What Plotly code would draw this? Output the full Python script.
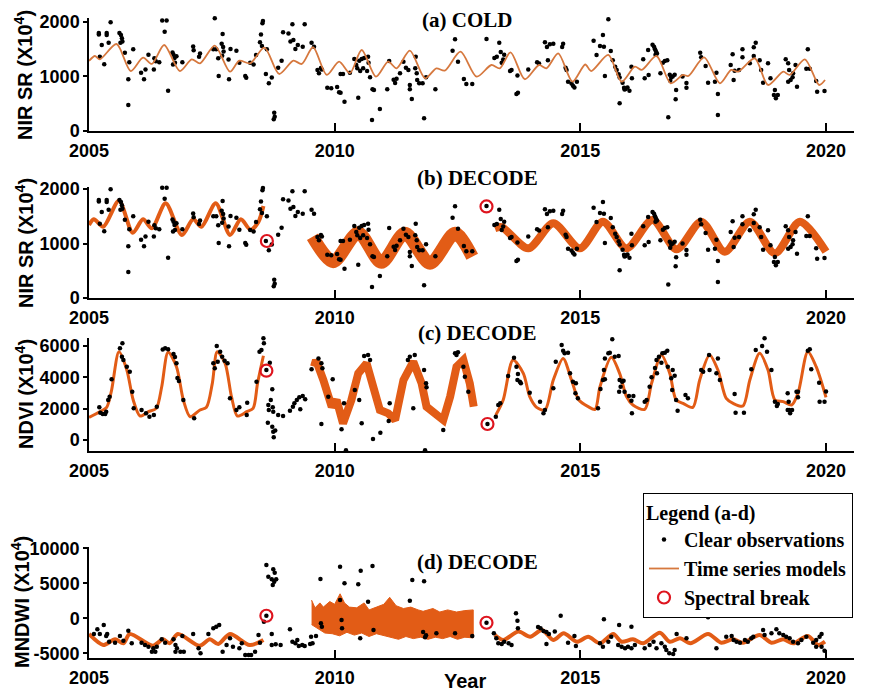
import plotly.graph_objects as go

# ---------------- DATA ----------------
# NIR SR clear observations (shared by panels a and b)
nir_obs_year = [2005.20,2005.20,2005.22,2005.26,2005.31,2005.36,2005.36,2005.40,2005.44,2005.62,2005.65,2005.67,2005.68,2005.64,2005.73,2005.80,2005.80,2005.82,2005.90,
2006.06,2006.12,2006.15,2006.21,2006.32,2006.33,2006.36,2006.43,2006.49,2006.58,2006.54,2006.61,2006.70,2006.72,2006.74,2006.78,2006.75,2006.71,2006.90,
2007.12,2007.13,2007.24,2007.26,2007.56,2007.53,2007.59,2007.63,2007.64,2007.70,2007.72,2007.73,2007.74,2007.71,2007.84,2007.85,2007.88,
2008.00,2008.06,2008.18,2008.20,2008.28,2008.35,2008.40,2008.48,2008.50,2008.52,2008.53,2008.54,2008.60,2008.62,2008.66,2008.72,2008.77,2008.78,2008.76,2008.85,2008.92,2008.95,
2009.06,2009.10,2009.14,2009.16,2009.20,2009.25,2009.35,2009.39,2009.53,2009.58,2009.65,2009.68,2009.72,2009.74,2009.85,2009.93,
2010.05,2010.09,2010.12,2010.12,2010.17,2010.20,2010.31,2010.40,2010.44,2010.50,2010.55,2010.60,2010.48,2010.46,2010.52,2010.58,2010.66,2010.68,2010.69,2010.72,2010.77,2010.80,2010.76,2010.92,
2011.07,2011.11,2011.20,2011.23,2011.26,2011.33,2011.40,2011.45,2011.50,2011.53,2011.53,2011.57,2011.64,2011.65,2011.67,2011.68,2011.72,2011.79,2011.82,2011.86,
2012.05,2012.40,2012.45,2012.51,2012.63,2012.68,2012.80,
2013.09,2013.25,2013.30,2013.35,2013.38,2013.40,2013.43,2013.45,2013.57,2013.60,2013.70,2013.73,2013.72,2013.94,
2014.12,2014.16,2014.28,2014.32,2014.38,2014.45,2014.34,2014.65,2014.63,2014.70,2014.72,2014.75,2014.82,2014.85,2014.88,2014.93,
2015.27,2015.33,2015.40,2015.46,2015.48,2015.50,2015.57,2015.62,2015.66,2015.71,2015.74,2015.78,2015.80,2015.80,2015.86,2015.89,2015.92,2015.96,2016.00,2015.90,
2016.04,2016.05,2016.28,2016.31,2016.38,2016.39,2016.47,2016.50,2016.52,2016.54,2016.56,2016.53,2016.63,2016.68,2016.72,2016.77,2016.79,2016.82,2016.85,2016.88,2016.83,2016.92,2016.95,2016.94,
2017.08,2017.16,2017.16,2017.44,2017.46,2017.55,2017.60,2017.74,2017.77,2017.80,2017.80,
2018.06,2018.10,2018.12,2018.14,2018.23,2018.30,2018.30,2018.45,2018.53,2018.57,2018.53,2018.65,2018.68,2018.72,2018.82,2018.87,2018.94,2018.98,2019.02,2018.96,
2019.18,2019.23,2019.25,2019.23,2019.28,2019.32,2019.33,2019.38,2019.41,2019.63,2019.60,2019.67,2019.80,2019.82,2019.97]
nir_obs_val = [1800,1770,1363,1578,1224,1800,1760,1620,1995,1800,1760,1700,1640,1620,1437,950,477,1260,1500,
1070,950,1130,1400,1130,1334,1280,1260,2025,2025,1822,740,1440,1400,1340,1370,1250,1220,1260,
1550,1480,1360,1420,2068,1500,1500,1334,1010,1600,1780,1540,1460,1380,1310,950,1505,
1473,1253,1010,975,1250,1220,1395,1630,1770,1560,1976,2018,1046,1500,875,980,336,262,215,1160,1290,1810,
1790,1640,1958,1670,1505,1578,1547,1958,1620,1547,1120,1060,1155,1130,795,783,
807,710,703,1046,1046,538,1070,1320,1210,1290,1320,1340,611,1150,1100,1150,1100,1363,1253,985,765,752,202,404,
765,1285,940,880,960,1058,1272,1160,1120,844,765,587,1150,1363,1060,935,875,875,233,985,
765,1473,1683,1272,955,860,860,
1690,1340,1360,1620,1450,1250,1310,1400,1100,1120,680,700,1020,1130,
1260,1240,1630,1540,1590,1600,1300,1600,1540,1160,1120,905,870,830,800,905,
1657,1395,1560,1762,1547,1010,2050,1468,1300,1180,1120,1040,980,508,886,795,770,800,740,760,
1180,967,1315,967,1486,1028,1580,1547,1500,1460,1420,1400,1060,1253,1285,1300,250,1030,980,1000,920,1030,750,582,
1000,880,795,1437,1352,1193,886,905,1070,680,294,
1211,1407,935,1107,1120,1500,1352,1242,1535,1620,1376,1300,1120,886,1242,967,660,600,660,752,
1315,1242,1120,905,935,985,1058,1211,813,1500,1140,1140,915,722,734]

# Panel (a) COLD model
cold_year = [2005.00,2005.12,2005.22,2005.56,2005.85,2006.10,2006.28,2006.53,2006.85,2007.09,2007.26,2007.56,2007.87,2008.06,2008.28,2008.57,2008.87,2009.16,2009.33,2009.56,2009.84,
2010.09,2010.31,2010.55,2010.84,2011.09,2011.26,2011.53,2011.84,2012.07,2012.24,2012.56,2012.89,2013.19,2013.36,2013.58,2013.87,2014.16,2014.31,2014.55,2014.84,
2015.10,2015.22,2015.57,2015.84,2016.11,2016.25,2016.55,2016.84,2017.09,2017.20,2017.52,2017.84,2018.07,2018.21,2018.55,2018.82,2019.13,2019.26,2019.57,2019.86,2019.98]
cold_val = [1285,1376,1315,1596,1100,1345,1230,1578,1100,1315,1242,1565,1088,1290,1242,1529,1046,1290,1230,1536,1028,
1272,1060,1486,996,1272,1150,1473,967,1150,1107,1455,996,1211,1150,1444,950,1211,1150,1425,905,
1220,1100,1395,905,1180,1120,1376,875,1028,1010,1352,875,1120,1088,1334,844,1088,1028,1315,844,935]

# Panel (b) DECODE NIR models (three segments)
nir_s1_year = [2005.00,2005.10,2005.29,2005.61,2005.89,2006.10,2006.28,2006.56,2006.89,2007.12,2007.29,2007.58,2007.87,2008.09,2008.29,2008.45,2008.55]
nir_s1_val = [1340,1444,1308,1785,1198,1444,1279,1738,1156,1444,1308,1738,1156,1444,1248,1400,1688]
nir_s2_year = [2009.55,2009.97,2010.48,2010.95,2011.43,2011.94,2012.45,2012.80]
nir_s2_val = [1125,666,1198,655,1187,636,1187,758]
nir_s3_year = [2013.26,2013.40,2013.94,2014.45,2014.99,2015.46,2015.94,2016.47,2016.96,2017.46,2017.94,2018.45,2018.96,2019.47,2020.00]
nir_s3_val = [1280,1300,912,1370,912,1400,912,1431,893,1400,850,1400,820,1400,850]
nir_break_year = [2008.62,2013.09]
nir_break_val = [1046,1680]

# Panel (c) NDVI
ndvi_obs_year = [2005.21,2005.23,2005.28,2005.33,2005.35,2005.39,2005.42,2005.46,2005.63,2005.68,2005.67,2005.70,2005.77,2005.83,2005.88,2005.91,
2006.07,2006.16,2006.23,2006.32,2006.38,2006.50,2006.55,2006.61,2006.72,2006.75,2006.78,2006.80,2006.83,2006.92,
2007.14,2007.53,2007.56,2007.60,2007.62,2007.67,2007.71,2007.76,2007.82,2007.87,
2008.00,2008.06,2008.21,2008.22,2008.41,2008.47,2008.51,2008.55,2008.56,2008.61,2008.68,2008.65,2008.66,2008.64,2008.70,2008.73,2008.74,2008.75,2008.73,2008.75,2008.79,2008.76,2008.85,2008.95,
2009.09,2009.15,2009.18,2009.23,2009.28,2009.35,2009.40,2009.30,2009.53,2009.67,2009.73,2009.75,2009.73,2009.87,2009.96,
2010.14,2010.19,2010.23,2010.41,2010.50,2010.55,2010.60,2010.68,2010.72,2010.78,2010.93,
2011.10,2011.12,2011.49,2011.53,2011.63,2011.60,2011.82,2011.86,2011.87,2011.84,
2012.21,2012.45,2012.48,2012.51,2012.62,2012.65,2012.72,
2013.11,2013.28,2013.33,2013.37,2013.53,2013.65,2013.70,2013.73,2013.77,2013.72,2013.79,2013.97,
2014.18,2014.25,2014.28,2014.45,2014.50,2014.62,2014.65,2014.68,2014.75,2014.79,2014.85,2014.91,2014.90,2014.95,
2015.36,2015.41,2015.46,2015.48,2015.50,2015.50,2015.57,2015.60,2015.65,2015.70,2015.78,2015.80,2015.82,2015.85,2015.88,2015.79,2015.90,2015.99,
2016.04,2016.05,2016.08,2016.31,2016.35,2016.41,2016.45,2016.52,2016.56,2016.55,2016.60,2016.67,2016.72,2016.77,2016.65,2016.78,2016.85,2016.88,2016.92,2016.87,2016.95,2016.98,
2017.14,2017.19,2017.46,2017.50,2017.63,2017.62,2017.80,2017.77,2017.84,
2018.14,2018.16,2018.33,2018.48,2018.57,2018.70,2018.75,2018.80,2018.89,2018.96,
2019.00,2019.02,2019.22,2019.24,2019.25,2019.27,2019.31,2019.22,2019.40,2019.43,2019.43,2019.63,2019.67,2019.70,2019.86,2019.87,2019.97,2020.00]
ndvi_obs_val = [2085,1744,1659,1659,1808,2552,2765,3870,5849,6168,5318,5104,4679,4360,3083,2020,
1914,1700,1489,1595,2127,5780,5850,5800,5490,5300,4900,3960,3760,2552,
1383,4893,4573,5998,4998,5634,5318,5062,4893,2659,
1914,2085,1595,2382,3722,5634,5742,6490,6168,4466,4934,2233,1914,1106,2552,3232,2085,1808,850,530,600,170,1595,1531,
1870,2127,2340,2552,2722,2808,2595,1956,4510,5210,4893,4573,1021,2765,3870,
680,2340,-650,3190,2552,1063,5360,5420,5104,64,468,
1212,2340,5104,5318,5423,2020,4466,3616,3360,-650,
638,5530,5420,5600,4679,4040,3083,
1021,1489,2233,2340,4083,5253,4679,4211,3722,3828,3616,3019,
2446,1700,1914,3297,4998,6061,5700,5530,5575,4254,3722,3616,2978,2659,
2020,3254,3828,4466,3870,5210,5530,5570,6424,5318,5360,3828,3400,3722,3786,3083,3083,2808,
2510,1700,2808,2446,2552,3400,4000,4593,4254,5104,5318,5530,5575,5700,4934,4679,3934,4466,4100,3190,2552,1870,
2871,2659,4466,4360,4466,5423,5210,4254,3828,
2935,1744,1744,4510,5742,6000,6490,5634,4466,2446,
2169,2300,2978,2446,1914,1700,1914,1914,3083,3083,2722,5700,5785,4510,3660,2446,2446,3103]
ndvi_s1_year = [2005.00,2005.22,2005.36,2005.46,2005.61,2005.77,2005.90,2006.04,2006.21,2006.37,2006.48,2006.61,2006.78,2006.92,2007.06,2007.26,2007.39,2007.51,2007.61,2007.77,2007.90,2008.02,2008.21,2008.34,2008.43,2008.55]
ndvi_s1_val = [1447,1806,2085,3190,5634,4466,2552,1531,1806,2020,3400,5595,4679,2552,1487,1914,2085,3616,5634,4893,2765,1531,1806,2020,3616,5380]
ndvi_s2_year = [2009.58,2009.62,2009.77,2009.94,2010.04,2010.17,2010.34,2010.48,2010.65,2010.78,2010.92,2011.09,2011.23,2011.40,2011.60,2011.77,2011.87,2012.04,2012.21,2012.35,2012.48,2012.62,2012.75,2012.83]
ndvi_s2_val = [4679,5100,3828,2127,2552,1063,2552,4254,4893,3400,1914,1700,1276,3828,4998,3616,2127,1700,1276,2765,4679,5104,3616,2127]
ndvi_s3_year = [2013.28,2013.43,2013.63,2013.84,2013.97,2014.11,2014.28,2014.45,2014.65,2014.82,2014.97,2015.16,2015.30,2015.40,2015.63,2015.80,2015.94,2016.07,2016.31,2016.45,2016.65,2016.82,2016.95,2017.09,2017.29,2017.43,2017.63,2017.80,2017.97,2018.11,2018.31,2018.45,2018.65,2018.82,2018.96,2019.13,2019.30,2019.43,2019.63,2019.80,2020.00]
ndvi_s3_val = [1595,2552,5104,4254,2765,2085,1914,3828,5210,3828,2552,2127,1956,3400,5275,4254,2765,2233,1956,3616,5423,4254,2552,2340,2085,3828,5423,4466,2659,2340,2169,3828,5530,4466,2552,2446,2233,2978,5634,4679,2722]
ndvi_break_year = [2008.61,2013.11]
ndvi_break_val = [4423,1021]

# Panel (d) MNDWI
mndwi_obs_year = [2005.10,2005.17,2005.22,2005.30,2005.35,2005.37,2005.41,2005.53,2005.63,2005.70,2005.80,2005.87,
2006.07,2006.14,2006.21,2006.28,2006.31,2006.35,2006.38,2006.48,2006.55,2006.72,2006.76,2006.79,2006.76,2006.86,2006.93,2006.90,
2007.12,2007.23,2007.27,2007.43,2007.53,2007.59,2007.65,2007.72,2007.80,2007.87,2007.93,
2008.06,2008.11,2008.18,2008.25,2008.30,2008.38,2008.45,2008.48,2008.56,2008.61,2008.61,2008.65,2008.72,2008.77,2008.81,2008.74,2008.75,2008.78,2008.72,2008.72,2008.80,2008.90,
2009.09,2009.14,2009.20,2009.24,2009.27,2009.34,2009.39,2009.50,2009.52,2009.55,2009.62,2009.71,2009.72,2009.74,
2010.11,2010.20,2010.11,2010.15,2010.14,2010.48,2010.53,2010.77,2010.68,2010.52,2010.79,
2011.58,2011.82,2011.53,2011.80,2011.84,2011.86,2012.07,2012.45,2012.80,
2013.09,2013.24,2013.29,2013.33,2013.40,2013.45,2013.54,2013.60,2013.69,2013.72,2013.73,
2014.14,2014.19,2014.25,2014.31,2014.36,2014.31,2014.48,2014.60,2014.75,2014.88,2014.91,
2015.40,2015.46,2015.48,2015.57,2015.63,2015.77,2015.79,2015.84,2015.91,2015.97,
2016.04,2016.04,2016.11,2016.31,2016.41,2016.49,2016.55,2016.65,2016.72,2016.75,2016.81,2016.89,2016.92,2016.96,
2017.16,2017.60,2017.77,2017.97,2018.08,2018.12,2018.18,2018.25,2018.35,2018.41,2018.48,2018.52,2018.72,2018.75,2018.89,2018.99,
2019.05,2019.13,2019.19,2019.26,2019.33,2019.43,2019.50,2019.60,2019.74,2019.80,2019.87,2019.91,2019.80,2019.91,2019.97]
mndwi_obs_val = [-2243,-1572,-2243,-957,-2529,-2243,-3343,-3486,-2529,-3200,-1772,-3572,
-3486,-3815,-4058,-4773,-4287,-4773,-4058,-3000,-3486,-3000,-3815,-4287,-4773,-4773,-4773,-2529,
-2243,-4287,-5000,-2243,-1429,-1200,-957,-4773,-3815,-2858,-4058,
-4287,-3572,-5244,-5244,-5244,-4773,-2386,-3486,-486,370,7616,5947,5570,5235,5570,4758,7000,6520,-2243,-3815,-3700,-3815,
-1572,-3343,-3572,-3100,-3958,-3815,-3958,-3672,-2630,-3572,-2529,5616,-715,-1200,
7373,5000,2615,-1429,-243,4858,6800,7473,2372,-2858,-1670,
5473,5287,2515,-1958,-2715,-2430,-2143,-2143,-2529,
-630,-2143,-2858,-3572,-3672,-3343,-3572,-3815,715,-343,-1429,
-1243,-1429,-1800,-1960,-2243,-3672,-1900,372,-3486,-2529,-3958,
-3577,-4054,-148,-3339,-2625,-3815,-957,-4054,-4292,-4054,
-1196,-4292,-3815,-4292,-3815,-3339,-4292,-3577,-4054,-4530,-5006,-5101,-4530,-2243,
-2863,139,-4292,-2625,-2529,-3101,-3339,-3482,-3101,-3339,-2863,-2625,-1672,-2386,-2148,-1577,
-2148,-2386,-2625,-2863,-3339,-3577,-3101,-2625,-3482,-3101,-2625,-2243,-4054,-4054,-4625]
mndwi_s1_year = [2005.00,2005.29,2005.53,2005.70,2005.83,2006.30,2006.51,2006.64,2006.81,2007.25,2007.46,2007.63,2007.87,2008.27,2008.55]
mndwi_s1_val = [-2243,-3815,-3000,-3572,-2243,-3915,-3000,-3572,-2243,-3915,-3000,-3672,-2243,-3815,-3100]
# noisy middle model: upper and lower envelope of the band
mndwi_s2_top_year = [2009.53,2009.60,2009.70,2009.77,2009.90,2010.00,2010.11,2010.20,2010.30,2010.45,2010.60,2010.70,2010.85,2011.00,2011.12,2011.25,2011.40,2011.55,2011.70,2011.80,2012.00,2012.14,2012.30,2012.48,2012.65,2012.82]
mndwi_s2_top_val = [2600,1500,2200,1600,2400,2000,3500,2200,1600,1500,2200,1200,1600,2000,3000,1800,1400,1600,1200,1000,1400,900,1200,900,1100,1200]
mndwi_s2_bot_year = [2009.53,2009.65,2009.80,2009.95,2010.10,2010.25,2010.40,2010.55,2010.70,2010.85,2011.00,2011.15,2011.30,2011.45,2011.60,2011.75,2011.90,2012.05,2012.20,2012.35,2012.50,2012.65,2012.82]
mndwi_s2_bot_val = [-900,-1500,-2100,-2200,-2500,-2000,-2400,-2100,-2600,-2200,-2500,-2700,-3000,-2600,-2900,-2700,-3000,-2700,-2900,-2600,-3000,-2700,-2800]
mndwi_s3_year = [2013.26,2013.43,2013.74,2013.98,2014.22,2014.45,2014.66,2014.93,2015.16,2015.40,2015.67,2015.84,2016.07,2016.28,2016.62,2016.82,2017.03,2017.24,2017.60,2017.87,2018.11,2018.31,2018.65,2018.89,2019.13,2019.33,2019.63,2019.84,2019.98]
mndwi_s3_val = [-2386,-3100,-1900,-2630,-1670,-3100,-2143,-3340,-2630,-3572,-2243,-3343,-3000,-3572,-2057,-3343,-2858,-3572,-2243,-3486,-3000,-3486,-2386,-3486,-3000,-3572,-2529,-3815,-3343]
mndwi_break_year = [2008.61,2013.09]
mndwi_break_val = [370,-630]

x_ticks = [2005, 2010, 2015, 2020]
panel_titles = ["(a) COLD", "(b) DECODE", "(c) DECODE", "(d) DECODE"]
y_titles = ["NIR SR (X10<sup>4</sup>)", "NIR SR (X10<sup>4</sup>)", "NDVI (X10<sup>4</sup>)", "MNDWI (X10<sup>4</sup>)"]
y_ticks = [[0, 1000, 2000], [0, 1000, 2000], [0, 2000, 4000, 6000], [-5000, 0, 5000, 10000]]
y_ranges = [[0, 2073], [0, 2037], [-702, 6511], [-5670, 10190]]

# ---------------- STYLE ----------------
# the page body has an 8 px margin, so the figure is made 8 px smaller and
# screen positions are converted into figure (paper) coordinates
OFF = 8
W, H = 871 - OFF, 693 - OFF
COLD_C = "rgb(214,120,62)"
DEC_C = "rgb(226,92,22)"
RED = "rgb(222,20,30)"
SANS = "Liberation Sans"
SERIF = "Liberation Serif"

def px_x(p): return (p - OFF) / W
def px_y(p): return 1 - (p - OFF) / H

# panel pixel boxes on screen (top, bottom)
boxes = [(18, 131), (187, 298), (338, 451), (547, 658)]
x_dom = [px_x(89), px_x(854)]

fig = go.Figure()

def obs(xa, ya, xs, ys, show):
    fig.add_trace(go.Scatter(x=xs, y=ys, mode="markers", xaxis=xa, yaxis=ya,
        marker=dict(color="black", size=4.5), name="Clear observations",
        legendgroup="obs", showlegend=show, cliponaxis=False))

def model(xa, ya, xs, ys, width, color, show):
    fig.add_trace(go.Scatter(x=xs, y=ys, mode="lines", xaxis=xa, yaxis=ya,
        line=dict(color=color, width=width, shape="spline", smoothing=0.8),
        name="Time series models", legendgroup="mod", showlegend=show))

def brk(xa, ya, xs, ys, show):
    fig.add_trace(go.Scatter(x=xs, y=ys, mode="markers", xaxis=xa, yaxis=ya,
        marker=dict(symbol="circle-open", color=RED, size=12, line=dict(width=2.2, color=RED)),
        name="Spectral break", legendgroup="brk", showlegend=show))

# (a)
obs("x", "y", nir_obs_year, nir_obs_val, True)
model("x", "y", cold_year, cold_val, 1.8, COLD_C, True)
# (b)
model("x2", "y2", nir_s1_year, nir_s1_val, 4, DEC_C, False)
model("x2", "y2", nir_s2_year, nir_s2_val, 13, DEC_C, False)
model("x2", "y2", nir_s3_year, nir_s3_val, 8, DEC_C, False)
obs("x2", "y2", nir_obs_year, nir_obs_val, False)
brk("x2", "y2", nir_break_year, nir_break_val, True)
# (c)
model("x3", "y3", ndvi_s1_year, ndvi_s1_val, 3, DEC_C, False)
fig.add_trace(go.Scatter(x=ndvi_s2_year, y=ndvi_s2_val, mode="lines", xaxis="x3", yaxis="y3",
    line=dict(color=DEC_C, width=8), showlegend=False))
model("x3", "y3", ndvi_s3_year, ndvi_s3_val, 3, DEC_C, False)
obs("x3", "y3", ndvi_obs_year, ndvi_obs_val, False)
brk("x3", "y3", ndvi_break_year, ndvi_break_val, False)
# (d)
model("x4", "y4", mndwi_s1_year, mndwi_s1_val, 4, DEC_C, False)
band_x = mndwi_s2_top_year + mndwi_s2_bot_year[::-1]
band_y = mndwi_s2_top_val + mndwi_s2_bot_val[::-1]
fig.add_trace(go.Scatter(x=band_x, y=band_y, mode="lines", fill="toself", fillcolor=DEC_C,
    line=dict(color=DEC_C, width=1), xaxis="x4", yaxis="y4", showlegend=False))
model("x4", "y4", mndwi_s3_year, mndwi_s3_val, 4, DEC_C, False)
obs("x4", "y4", mndwi_obs_year, mndwi_obs_val, False)
brk("x4", "y4", mndwi_break_year, mndwi_break_val, False)

tickfont = dict(family=SANS, size=18, color="black", weight="bold")
layout = dict(width=W, height=H, margin=dict(l=0, r=0, t=0, b=0, autoexpand=False),
              paper_bgcolor="white", plot_bgcolor="white")
for i, (top, bot) in enumerate(boxes):
    sfx = "" if i == 0 else str(i + 1)
    layout["xaxis" + sfx] = dict(domain=x_dom, range=[2005, 2020.57], anchor="y" + sfx,
        tickvals=x_ticks, ticktext=[str(v) for v in x_ticks],
        ticks="inside", ticklen=8, tickwidth=1.5, tickcolor="black",
        showline=True, linecolor="black", linewidth=1.5, showgrid=False, zeroline=False,
        tickfont=tickfont, ticklabelstandoff=3, automargin=False)
    layout["yaxis" + sfx] = dict(domain=[px_y(bot), px_y(top)], range=y_ranges[i], anchor="x" + sfx,
        tickvals=y_ticks[i], ticktext=[str(v) for v in y_ticks[i]],
        ticks="outside", ticklen=4, tickwidth=1.5, tickcolor="black",
        showline=True, linecolor="black", linewidth=1.5, showgrid=False, zeroline=False,
        tickfont=tickfont, automargin=False)
fig.update_layout(**layout)

title_pos = [(467, 20), (477, 178), (477, 333), (477, 562)]
ytitle_pos = [(24, 75), (24, 243), (24, 394), (20, 602)]
ann = []
for i in range(4):
    ann.append(dict(text="<b>" + panel_titles[i] + "</b>", x=px_x(title_pos[i][0]), y=px_y(title_pos[i][1]),
        xref="paper", yref="paper", showarrow=False, xanchor="center", yanchor="middle",
        font=dict(family=SERIF, size=21, color="black")))
    ann.append(dict(text="<b>" + y_titles[i] + "</b>", x=px_x(ytitle_pos[i][0]), y=px_y(ytitle_pos[i][1]),
        xref="paper", yref="paper", showarrow=False, xanchor="center", yanchor="middle", textangle=-90,
        font=dict(family=SANS, size=20, color="black")))
ann.append(dict(text="<b>Year</b>", x=px_x(465), y=px_y(681), xref="paper", yref="paper",
    showarrow=False, xanchor="center", yanchor="middle", font=dict(family=SANS, size=20, color="black")))
fig.update_layout(annotations=ann)

fig.update_layout(legend=dict(
    title=dict(text="Legend (a-d)", font=dict(family=SERIF, size=20, color="black", weight="bold")),
    font=dict(family=SERIF, size=20, color="black", weight="bold"),
    x=px_x(643), y=px_y(493), xanchor="left", yanchor="top",
    bordercolor="black", borderwidth=1, bgcolor="white",
    itemwidth=30, tracegroupgap=0, traceorder="normal"))

fig.write_html("out.html")
